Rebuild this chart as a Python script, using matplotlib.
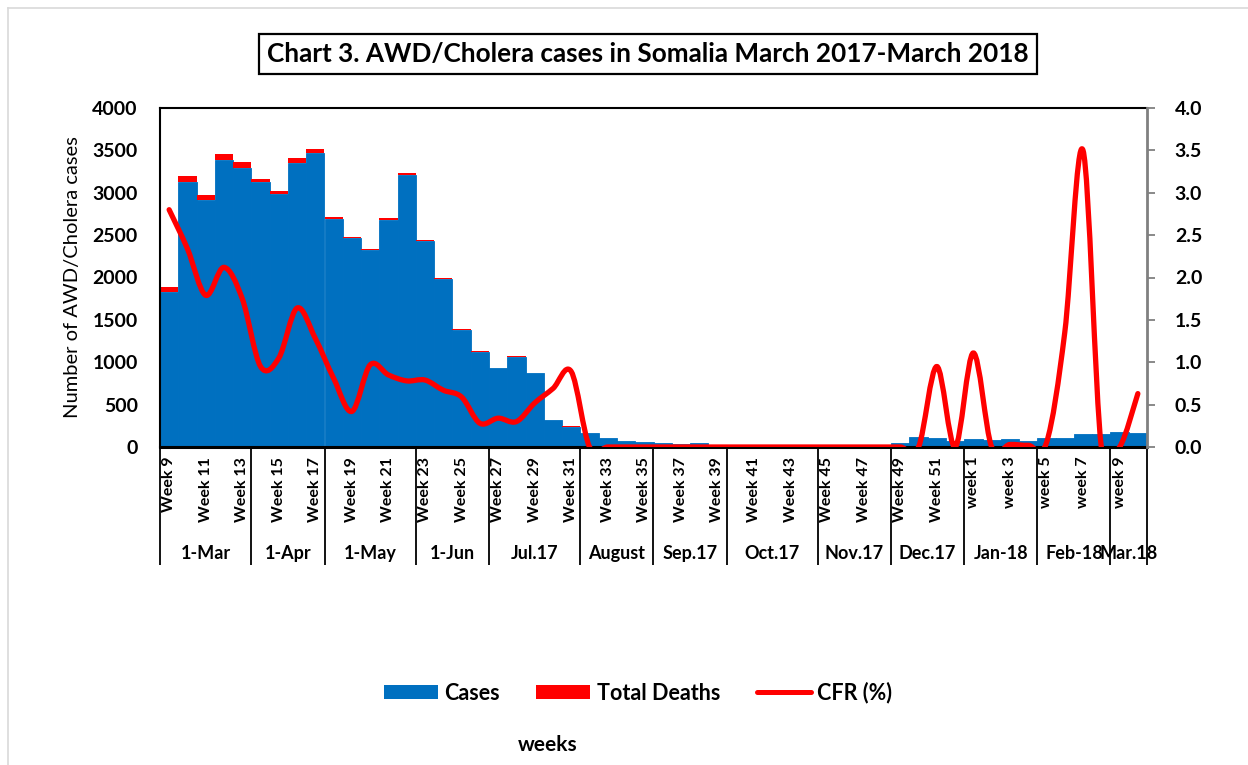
import matplotlib
matplotlib.use("Agg")
import matplotlib.pyplot as plt
from matplotlib.path import Path
from matplotlib.patches import PathPatch, Patch
from matplotlib.lines import Line2D
import matplotlib.transforms as mtransforms
import numpy as np

plt.rcParams['font.family'] = ['Lato', 'DejaVu Sans']

# ---------------- data ----------------
week_labels = [f"Week {w}" for w in range(9, 53)] + [f"week {w}" for w in range(1, 11)]

cases = [1832, 3123, 2915, 3383, 3289, 3123, 2982, 3355, 3473, 2687,
         2466, 2325, 2679, 3206, 2431, 1979, 1381, 1125, 928, 1066,
         870, 319, 240, 161, 102, 71, 55, 44, 32, 51,
         18, 15, 12, 10, 10, 8, 8, 10, 12, 20,
         44, 118, 110, 70, 94, 83, 98, 71, 106, 102,
         150, 150, 177, 165]

deaths = [52, 75, 59, 71, 71, 35, 35, 59, 43, 24,
          15, 15, 20, 24, 15, 15, 10, 5, 3, 3,
          4, 2, 2, 0, 0, 0, 0, 0, 0, 0,
          0, 0, 0, 0, 0, 0, 0, 0, 0, 0,
          0, 0, 1, 0, 1, 0, 0, 0, 0, 1,
          5, 0, 0, 1]

cfr = [2.80, 2.34, 1.79, 2.12, 1.75, 0.95, 1.05, 1.64, 1.28, 0.81,
       0.42, 0.97, 0.85, 0.78, 0.79, 0.67, 0.59, 0.28, 0.34, 0.30,
       0.52, 0.69, 0.89, 0.0, 0.0, 0.0, 0.0, 0.0, 0.0, 0.0,
       0.0, 0.0, 0.0, 0.0, 0.0, 0.0, 0.0, 0.0, 0.0, 0.0,
       0.0, 0.0, 0.95, 0.0, 1.11, 0.0, 0.03, 0.02, 0.05, 1.35,
       3.50, 0.0, 0.0, 0.63]

month_names = ["1-Mar", "1-Apr", "1-May", "1-Jun", "Jul.17", "August", "Sep.17",
               "Oct.17", "Nov.17", "Dec.17", "Jan-18", "Feb-18", "Mar.18"]
month_lengths = [5, 4, 5, 4, 5, 4, 4, 5, 4, 4, 4, 4, 2]

left_ticks = [0, 500, 1000, 1500, 2000, 2500, 3000, 3500, 4000]
right_ticks = [0.0, 0.5, 1.0, 1.5, 2.0, 2.5, 3.0, 3.5, 4.0]

BLUE = "#0070C0"
RED = "#FF0000"

# ---------------- figure ----------------
W, H = 1248, 765
fig = plt.figure(figsize=(W / 100, H / 100), dpi=100)
ax = fig.add_axes([160 / W, 1 - 447 / H, (1147 - 160) / W, (447 - 108) / H])
ax2 = ax.twinx()

x = np.arange(len(cases))
ax.bar(x, cases, width=1.0, color=BLUE, edgecolor=BLUE, linewidth=0.6)
ax.bar(x, deaths, width=1.0, bottom=cases, color=RED, linewidth=0)

ax.set_xlim(-0.5, len(cases) - 0.5)
ax.set_ylim(0, 4000)
ax.set_yticks(left_ticks)
ax.set_yticklabels([str(v) for v in left_ticks], fontsize=14, fontweight='bold')
ax.tick_params(axis='y', length=0, pad=16)

# week labels (every other week)
ax.set_xticks(x[::2])
ax.set_xticklabels(week_labels[::2], rotation=90, fontsize=11.5, fontweight='bold')
ax.tick_params(axis='x', which='major', length=0, pad=7)

# month boundaries as long minor ticks
bounds = np.concatenate([[0], np.cumsum(month_lengths)]) - 0.5
ax.set_xticks(bounds, minor=True)
ax.tick_params(axis='x', which='minor', length=85, width=1.3, color='black')

trans = mtransforms.blended_transform_factory(ax.transData, ax.transAxes)
for name, a, b in zip(month_names, bounds[:-1], bounds[1:]):
    ax.text((a + b) / 2, -0.3127, name, transform=trans, ha='center', va='center',
            fontsize=13, fontweight='bold')

for side in ['left', 'top']:
    ax.spines[side].set_color('black')
    ax.spines[side].set_linewidth(1.5)
ax.spines['bottom'].set_linewidth(2.2)
ax.spines['right'].set_visible(False)

ax.set_ylabel("Number of AWD/Cholera cases", fontsize=14.5, labelpad=8)

# CFR line, smoothed (Excel style smoothing) on secondary axis
ax2.set_ylim(0, 4.0)
ax2.set_yticks(right_ticks)
ax2.set_yticklabels([f"{v:.1f}" for v in right_ticks], fontsize=14, fontweight='bold')
ax2.tick_params(axis='y', length=6, width=1.3, color='#808080', pad=14)
ax2.spines['right'].set_color('#808080')
ax2.spines['right'].set_linewidth(2)
for side in ['left', 'top', 'bottom']:
    ax2.spines[side].set_visible(False)

pts = np.column_stack([x, cfr]).astype(float)
verts = [tuple(pts[0])]
codes = [Path.MOVETO]
n = len(pts)
for i in range(n - 1):
    p0 = pts[i - 1] if i > 0 else pts[i]
    p1 = pts[i]
    p2 = pts[i + 1]
    p3 = pts[i + 2] if i + 2 < n else pts[i + 1]
    c1 = p1 + (p2 - p0) / 6.0
    c2 = p2 - (p3 - p1) / 6.0
    verts += [tuple(c1), tuple(c2), tuple(p2)]
    codes += [Path.CURVE4] * 3
ax2.add_patch(PathPatch(Path(verts, codes), fill=False, edgecolor=RED, lw=3.8,
                        capstyle='round', joinstyle='round', zorder=5))

# title box
fig.text(648 / W, 1 - 54 / H, "Chart 3. AWD/Cholera cases in Somalia March 2017-March 2018",
         ha='center', va='center', fontsize=18.8, fontweight='bold',
         bbox=dict(boxstyle='square,pad=0.3', facecolor='white', edgecolor='black', linewidth=1.6))

# legend
handles = [Patch(facecolor=BLUE, edgecolor='none'),
           Patch(facecolor=RED, edgecolor='none'),
           Line2D([0], [0], color=RED, lw=3.6, solid_capstyle='round')]
fig.legend(handles, ["Cases", "Total Deaths", "CFR (%)"], loc='center',
           bbox_to_anchor=(638 / W, 1 - 693 / H), ncol=3, frameon=False,
           prop={'size': 15.5, 'weight': 'bold'}, handlelength=2.5, handleheight=0.65,
           handletextpad=0.3, columnspacing=1.7)

fig.text(548 / W, 1 - 745 / H, "weeks", ha='center', va='center', fontsize=15, fontweight='bold')

# faint outer border (top and left)
fig.add_artist(Line2D([8 / W, 1], [1 - 8 / H, 1 - 8 / H], color='#D9D9D9', lw=1.2))
fig.add_artist(Line2D([8 / W, 8 / W], [0, 1 - 8 / H], color='#D9D9D9', lw=1.2))

fig.savefig("out.png", dpi=100)
